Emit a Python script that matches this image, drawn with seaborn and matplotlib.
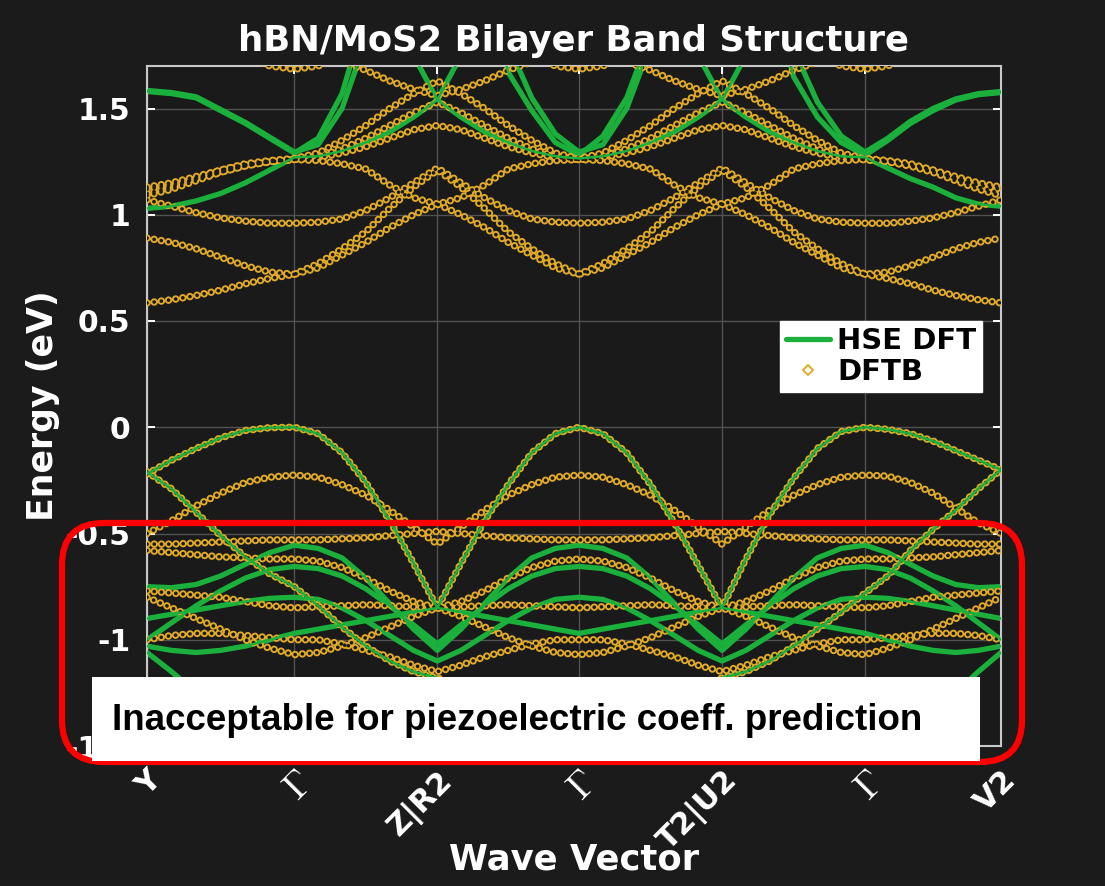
import numpy as np
import pandas as pd
import matplotlib
matplotlib.use("Agg")
import matplotlib.pyplot as plt
import seaborn as sns
from matplotlib.patches import FancyBboxPatch, Rectangle
from matplotlib.lines import Line2D
from matplotlib.transforms import IdentityTransform

# ---------------- k-path ----------------
K_NODES = [0.0, 1.03, 2.03, 3.02, 4.02, 5.02, 5.97]
K_LABELS = ["Y", r"$\Gamma$", "Z|R2", r"$\Gamma$", "T2|U2", r"$\Gamma$", "V2"]
PTS_PER_SEG = 6

E_TICKS = [-1.5, -1, -0.5, 0, 0.5, 1, 1.5]
E_TICK_LABELS = ["-1.5", "-1", "-0.5", "0", "0.5", "1", "1.5"]

# ---------------- HSE DFT bands (eV), one row per path segment ----------------
hse_c1 = [1.03, 1.04, 1.065, 1.10, 1.15, 1.21, 1.27,
          1.275, 1.30, 1.34, 1.39, 1.46, 1.54,
          1.46, 1.39, 1.34, 1.30, 1.275, 1.265,
          1.275, 1.30, 1.34, 1.39, 1.46, 1.54,
          1.46, 1.39, 1.34, 1.30, 1.275, 1.27,
          1.22, 1.17, 1.13, 1.08, 1.05, 1.04]
hse_c2 = [1.58, 1.57, 1.55, 1.49, 1.43, 1.36, 1.29,
          1.36, 1.57, 1.95, 2.20, 1.75, 1.54,
          1.75, 2.10, 1.67, 1.49, 1.34, 1.28,
          1.37, 1.55, 1.85, 2.20, 1.75, 1.54,
          1.75, 2.10, 1.65, 1.46, 1.34, 1.28,
          1.35, 1.43, 1.49, 1.54, 1.565, 1.575]
hse_c3 = [1.585, 1.575, 1.555, 1.495, 1.435, 1.365, 1.295,
          1.33, 1.50, 1.82, 2.20, 2.30, 2.30,
          2.30, 2.30, 1.80, 1.55, 1.38, 1.295,
          1.33, 1.50, 1.80, 2.20, 2.30, 2.30,
          2.30, 2.30, 1.78, 1.53, 1.37, 1.295,
          1.36, 1.44, 1.50, 1.545, 1.57, 1.58]
hse_v1 = [-0.22, -0.155, -0.10, -0.05, -0.015, -0.002, 0.0,
          -0.03, -0.12, -0.26, -0.44, -0.64, -0.85,
          -0.64, -0.44, -0.27, -0.12, -0.03, 0.0,
          -0.03, -0.12, -0.27, -0.45, -0.65, -0.85,
          -0.62, -0.41, -0.24, -0.10, -0.02, 0.0,
          -0.01, -0.03, -0.065, -0.11, -0.155, -0.20]
hse_v2 = [-0.21, -0.29, -0.40, -0.51, -0.61, -0.69, -0.75,
          -0.84, -0.94, -1.03, -1.10, -1.15, -1.18,
          -1.22, -1.26, -1.28, -1.30, -1.31, -1.32,
          -1.31, -1.30, -1.28, -1.26, -1.22, -1.18,
          -1.15, -1.10, -1.03, -0.95, -0.87, -0.78,
          -0.70, -0.58, -0.48, -0.39, -0.29, -0.20]
hse_v3 = [-0.75, -0.755, -0.74, -0.70, -0.645, -0.59, -0.555,
          -0.57, -0.615, -0.71, -0.83, -0.95, -1.05,
          -0.95, -0.83, -0.71, -0.615, -0.57, -0.555,
          -0.57, -0.615, -0.71, -0.83, -0.95, -1.05,
          -0.95, -0.83, -0.71, -0.615, -0.57, -0.555,
          -0.59, -0.645, -0.70, -0.74, -0.755, -0.75]
hse_v4 = [-1.0, -0.92, -0.84, -0.77, -0.71, -0.67, -0.655,
          -0.665, -0.70, -0.76, -0.84, -0.93, -1.02,
          -0.93, -0.84, -0.76, -0.70, -0.665, -0.655,
          -0.665, -0.70, -0.76, -0.84, -0.93, -1.02,
          -0.93, -0.84, -0.76, -0.70, -0.665, -0.655,
          -0.67, -0.71, -0.77, -0.84, -0.92, -1.0]
hse_v5 = [-1.03, -1.05, -1.06, -1.05, -1.03, -1.00, -0.97,
          -0.95, -0.93, -0.91, -0.89, -0.87, -0.85,
          -0.87, -0.89, -0.91, -0.93, -0.95, -0.97,
          -0.95, -0.93, -0.91, -0.89, -0.87, -0.85,
          -0.87, -0.89, -0.91, -0.93, -0.95, -0.97,
          -1.00, -1.03, -1.05, -1.06, -1.05, -1.03]
hse_v6 = [-0.90, -0.88, -0.86, -0.84, -0.82, -0.805, -0.80,
          -0.81, -0.85, -0.91, -0.98, -1.05, -1.10,
          -1.05, -0.98, -0.91, -0.85, -0.81, -0.80,
          -0.81, -0.85, -0.91, -0.98, -1.05, -1.10,
          -1.05, -0.98, -0.91, -0.85, -0.81, -0.80,
          -0.805, -0.82, -0.84, -0.86, -0.88, -0.90]
hse_v7 = [-1.06, -1.15, -1.25, -1.32, -1.37, -1.40, -1.41,
          -1.40, -1.38, -1.35, -1.31, -1.27, -1.24,
          -1.27, -1.31, -1.35, -1.38, -1.40, -1.41,
          -1.40, -1.38, -1.35, -1.31, -1.27, -1.24,
          -1.27, -1.31, -1.35, -1.38, -1.40, -1.41,
          -1.40, -1.37, -1.32, -1.25, -1.15, -1.06]

# ---------------- DFTB bands (eV) ----------------
dftb_c1 = [0.585, 0.60, 0.62, 0.645, 0.675, 0.70, 0.72,
           0.75, 0.81, 0.87, 0.94, 1.00, 1.05,
           1.00, 0.94, 0.87, 0.81, 0.75, 0.72,
           0.75, 0.81, 0.87, 0.94, 1.00, 1.05,
           1.00, 0.94, 0.87, 0.81, 0.75, 0.72,
           0.70, 0.675, 0.645, 0.62, 0.60, 0.585]
dftb_c2 = [0.89, 0.87, 0.84, 0.80, 0.76, 0.73, 0.72,
           0.77, 0.84, 0.92, 1.03, 1.13, 1.21,
           1.13, 1.03, 0.92, 0.84, 0.77, 0.72,
           0.77, 0.84, 0.92, 1.03, 1.13, 1.21,
           1.13, 1.03, 0.92, 0.84, 0.77, 0.72,
           0.73, 0.76, 0.80, 0.84, 0.87, 0.89]
dftb_c3 = [1.07, 1.04, 1.01, 0.985, 0.97, 0.96, 0.96,
           0.965, 0.98, 1.02, 1.08, 1.15, 1.22,
           1.15, 1.08, 1.02, 0.98, 0.965, 0.96,
           0.965, 0.98, 1.02, 1.08, 1.15, 1.22,
           1.15, 1.08, 1.02, 0.98, 0.965, 0.96,
           0.96, 0.97, 0.985, 1.01, 1.04, 1.07]
dftb_c4 = [1.13, 1.15, 1.18, 1.21, 1.235, 1.25, 1.26,
           1.275, 1.31, 1.36, 1.42, 1.48, 1.53,
           1.48, 1.42, 1.36, 1.31, 1.275, 1.26,
           1.275, 1.31, 1.36, 1.42, 1.48, 1.53,
           1.48, 1.42, 1.36, 1.31, 1.275, 1.26,
           1.25, 1.235, 1.21, 1.18, 1.15, 1.13]
dftb_c5 = [1.10, 1.13, 1.17, 1.21, 1.24, 1.255, 1.265,
           1.29, 1.35, 1.42, 1.50, 1.57, 1.63,
           1.57, 1.50, 1.42, 1.35, 1.29, 1.265,
           1.29, 1.35, 1.42, 1.50, 1.57, 1.63,
           1.57, 1.50, 1.42, 1.35, 1.29, 1.265,
           1.255, 1.24, 1.21, 1.17, 1.13, 1.10]
dftb_c6 = [2.30, 2.10, 1.95, 1.83, 1.75, 1.70, 1.685,
           1.70, 1.75, 1.85, 1.95, 2.05, 2.10,
           2.05, 1.95, 1.85, 1.75, 1.70, 1.685,
           1.70, 1.75, 1.85, 1.95, 2.05, 2.10,
           2.05, 1.95, 1.85, 1.75, 1.70, 1.685,
           1.70, 1.75, 1.83, 1.95, 2.10, 2.30]
dftb_c7 = [1.95, 1.93, 1.90, 1.88, 1.85, 1.82, 1.80,
           1.76, 1.72, 1.68, 1.63, 1.59, 1.56,
           1.59, 1.63, 1.68, 1.72, 1.76, 1.80,
           1.76, 1.72, 1.68, 1.63, 1.59, 1.56,
           1.59, 1.63, 1.68, 1.72, 1.76, 1.80,
           1.82, 1.85, 1.88, 1.90, 1.93, 1.95]
dftb_c8 = [1.09, 1.12, 1.16, 1.20, 1.23, 1.25, 1.26,
           1.255, 1.24, 1.215, 1.14, 1.08, 1.05,
           1.08, 1.14, 1.215, 1.24, 1.255, 1.26,
           1.255, 1.24, 1.215, 1.14, 1.08, 1.05,
           1.08, 1.14, 1.215, 1.24, 1.255, 1.26,
           1.25, 1.23, 1.20, 1.16, 1.12, 1.09]
dftb_c9 = [1.12, 1.14, 1.17, 1.20, 1.23, 1.25, 1.26,
           1.27, 1.29, 1.32, 1.36, 1.40, 1.42,
           1.40, 1.36, 1.32, 1.29, 1.27, 1.26,
           1.27, 1.29, 1.32, 1.36, 1.40, 1.42,
           1.40, 1.36, 1.32, 1.29, 1.27, 1.26,
           1.25, 1.23, 1.20, 1.17, 1.14, 1.12]
dftb_v1 = [-0.22, -0.155, -0.10, -0.05, -0.015, -0.002, 0.0,
           -0.03, -0.12, -0.26, -0.44, -0.64, -0.85,
           -0.64, -0.44, -0.27, -0.12, -0.03, 0.0,
           -0.03, -0.12, -0.27, -0.45, -0.65, -0.85,
           -0.62, -0.41, -0.24, -0.10, -0.02, 0.0,
           -0.01, -0.03, -0.065, -0.11, -0.155, -0.20]
dftb_v2 = [-0.50, -0.44, -0.37, -0.31, -0.26, -0.235, -0.225,
           -0.235, -0.27, -0.32, -0.39, -0.47, -0.55,
           -0.47, -0.39, -0.32, -0.27, -0.235, -0.225,
           -0.235, -0.27, -0.32, -0.39, -0.47, -0.55,
           -0.47, -0.39, -0.32, -0.27, -0.235, -0.225,
           -0.23, -0.26, -0.31, -0.38, -0.45, -0.50]
dftb_v3 = [-0.55, -0.55, -0.545, -0.54, -0.535, -0.53, -0.53,
           -0.53, -0.525, -0.52, -0.51, -0.50, -0.49,
           -0.50, -0.51, -0.52, -0.525, -0.53, -0.53,
           -0.53, -0.525, -0.52, -0.51, -0.50, -0.49,
           -0.50, -0.51, -0.52, -0.525, -0.53, -0.53,
           -0.53, -0.535, -0.54, -0.545, -0.55, -0.55]
dftb_v4 = [-0.58, -0.59, -0.60, -0.61, -0.615, -0.62, -0.62,
           -0.63, -0.66, -0.71, -0.77, -0.82, -0.85,
           -0.82, -0.77, -0.71, -0.66, -0.63, -0.62,
           -0.63, -0.66, -0.71, -0.77, -0.82, -0.85,
           -0.82, -0.77, -0.71, -0.66, -0.63, -0.62,
           -0.62, -0.615, -0.61, -0.60, -0.59, -0.58]
dftb_v5 = [-0.77, -0.78, -0.79, -0.80, -0.82, -0.84, -0.85,
           -0.845, -0.84, -0.835, -0.84, -0.845, -0.85,
           -0.845, -0.84, -0.835, -0.84, -0.845, -0.85,
           -0.845, -0.84, -0.835, -0.84, -0.845, -0.85,
           -0.845, -0.84, -0.835, -0.84, -0.845, -0.85,
           -0.84, -0.82, -0.80, -0.79, -0.78, -0.77]
dftb_v6 = [-1.0, -0.98, -0.97, -0.97, -0.98, -0.99, -1.0,
           -1.0, -1.02, -1.05, -1.08, -1.12, -1.15,
           -1.12, -1.08, -1.05, -1.02, -1.0, -1.0,
           -1.0, -1.02, -1.05, -1.08, -1.12, -1.15,
           -1.12, -1.08, -1.05, -1.02, -1.0, -1.0,
           -0.99, -0.98, -0.97, -0.97, -0.98, -1.0]
dftb_v7 = [-0.21, -0.29, -0.40, -0.51, -0.61, -0.69, -0.75,
           -0.84, -0.94, -1.03, -1.10, -1.15, -1.18,
           -1.22, -1.26, -1.28, -1.30, -1.31, -1.32,
           -1.31, -1.30, -1.28, -1.26, -1.22, -1.18,
           -1.15, -1.10, -1.03, -0.95, -0.87, -0.78,
           -0.70, -0.58, -0.48, -0.39, -0.29, -0.20]
dftb_v8 = [-0.80, -0.85, -0.90, -0.95, -1.0, -1.04, -1.07,
           -1.06, -1.03, -0.99, -0.94, -0.89, -0.85,
           -0.89, -0.94, -0.99, -1.03, -1.06, -1.07,
           -1.06, -1.03, -0.99, -0.94, -0.89, -0.85,
           -0.89, -0.94, -0.99, -1.03, -1.06, -1.07,
           -1.04, -1.0, -0.95, -0.90, -0.85, -0.80]

HSE_BANDS = [hse_c1, hse_c2, hse_c3, hse_v1, hse_v2, hse_v3, hse_v4, hse_v5, hse_v6, hse_v7]
DFTB_BANDS = [dftb_c1, dftb_c2, dftb_c3, dftb_c4, dftb_c5, dftb_c6, dftb_c7, dftb_c8, dftb_c9,
              dftb_v1, dftb_v2, dftb_v3, dftb_v4, dftb_v5, dftb_v6, dftb_v7, dftb_v8]

# ---------------- styling ----------------
FIG_BG = "#1b1b1b"
AX_BG = "#1a1a1a"
GREEN = "#1bb03c"
GOLD = "#e2ab2a"

# k grid: evenly spaced points along each path segment
k = np.concatenate([
    np.linspace(K_NODES[i], K_NODES[i + 1], PTS_PER_SEG + 1)[(0 if i == 0 else 1):]
    for i in range(len(K_NODES) - 1)
])


def long_table(bands):
    rows = []
    for b, vals in enumerate(bands):
        assert len(vals) == len(k)
        rows.append(pd.DataFrame({"k": k, "E": vals, "band": b}))
    return pd.concat(rows, ignore_index=True)


hse_df = long_table(HSE_BANDS)
dftb_df = long_table(DFTB_BANDS)

sns.set_theme(style="dark")
plt.rcParams["font.family"] = ["DejaVu Sans"]
plt.rcParams["mathtext.fontset"] = "cm"
plt.rcParams["lines.scale_dashes"] = False

W, H = 1105, 886
fig = plt.figure(figsize=(W / 100, H / 100), dpi=100, facecolor=FIG_BG)
ax = fig.add_axes([147 / W, 1 - 746 / H, 854 / W, 680 / H])
ax.set_facecolor(AX_BG)

# HSE: solid green lines
sns.lineplot(data=hse_df, x="k", y="E", units="band", estimator=None, sort=False,
             color=GREEN, linewidth=3.8, ax=ax, legend=False, zorder=2)

# DFTB: chains of small open rings (gold dot + dark core)
ring = dict(data=dftb_df, x="k", y="E", units="band", estimator=None, sort=False,
            ax=ax, legend=False, linestyle=(0, (0.01, 5.2)), dash_capstyle="round")
sns.lineplot(color=GOLD, linewidth=5.4, zorder=3, **ring)
sns.lineplot(color=AX_BG, linewidth=2.7, zorder=4, **ring)
# HSE core seen through the open rings
sns.lineplot(data=hse_df, x="k", y="E", units="band", estimator=None, sort=False,
             color=GREEN, linewidth=1.8, ax=ax, legend=False, zorder=5)

ax.set_xlim(K_NODES[0], K_NODES[-1])
ax.set_ylim(-1.5, 1.7)
ax.set_xticks(K_NODES)
ax.set_xticklabels(K_LABELS, rotation=45, ha="right", rotation_mode="anchor",
                   fontsize=22, fontweight="bold", color="white")
for lab in ax.get_xticklabels():
    if "Gamma" in lab.get_text():
        lab.set_fontsize(27)
ax.set_yticks(E_TICKS)
ax.set_yticklabels(E_TICK_LABELS, fontsize=21.5, fontweight="bold", color="white")
ax.tick_params(axis="both", direction="in", length=6, width=1.4, color="white",
               top=True, right=True, bottom=True, left=True)
ax.tick_params(axis="y", pad=12)
ax.tick_params(axis="x", pad=14)
ax.grid(True, color="#525252", linewidth=1.0)
ax.set_axisbelow(True)
for s in ax.spines.values():
    s.set_visible(True)
    s.set_color("#c8c8c8")
    s.set_linewidth(1.5)

ax.set_title("hBN/MoS2 Bilayer Band Structure", fontsize=25.5, fontweight="bold",
             color="white", pad=11)
ax.set_xlabel("Wave Vector", fontsize=25.5, fontweight="bold", color="white")
ax.set_ylabel("Energy (eV)", fontsize=25, fontweight="bold", color="white")
ax.xaxis.set_label_coords(0.5, -0.142)
ax.yaxis.set_label_coords(-0.102, 0.5)

handles = [
    Line2D([], [], color=GREEN, linewidth=3.8),
    Line2D([], [], linestyle="none", marker="D", markersize=5.5, markerfacecolor="none",
           markeredgecolor=GOLD, markeredgewidth=1.4),
]
leg = ax.legend(handles, ["HSE DFT", "DFTB"], loc="upper right",
                bbox_to_anchor=(0.978, 0.625), borderaxespad=0, frameon=True,
                fancybox=False, framealpha=1, facecolor="white", edgecolor="white",
                prop={"weight": "bold", "size": 21}, handlelength=1.5,
                handletextpad=0.25, borderpad=0.2, labelspacing=0.1)
for t in leg.get_texts():
    t.set_color("black")
leg.set_zorder(6)

# annotation overlay (pixel coordinates)
frame = FancyBboxPatch((62, H - 762), 1022 - 62, 762 - 523,
                       boxstyle="round,pad=0,rounding_size=42",
                       edgecolor="#ff0000", facecolor="none", linewidth=4.5,
                       transform=IdentityTransform(), zorder=10)
fig.add_artist(frame)
note_bg = Rectangle((92, H - 761), 980 - 92, 761 - 677, facecolor="white",
                    edgecolor="none", transform=IdentityTransform(), zorder=11)
fig.add_artist(note_bg)
fig.text(112 / W, 1 - 720 / H, "Inacceptable for piezoelectric coeff. prediction",
         fontsize=26.5, fontweight="bold", family=["Liberation Sans", "DejaVu Sans"],
         color="black", ha="left", va="center", zorder=12)

fig.savefig("out.png", dpi=100, facecolor=FIG_BG)
